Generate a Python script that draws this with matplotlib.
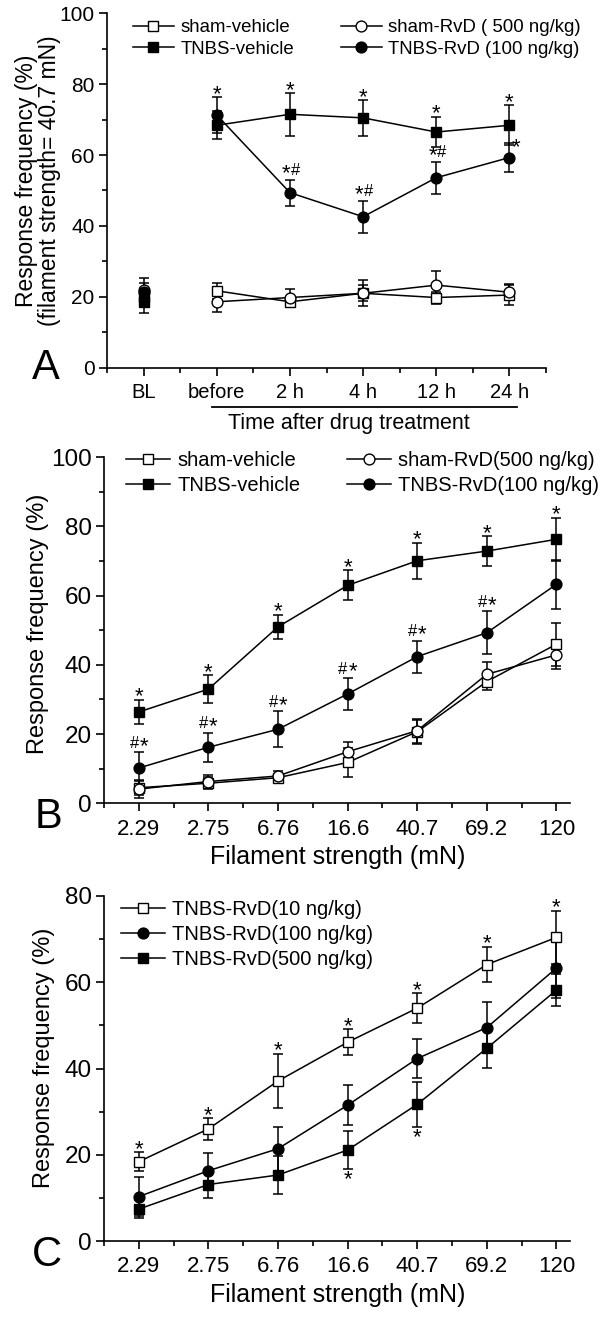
import numpy as np
import matplotlib
matplotlib.use("Agg")
import matplotlib.pyplot as plt
from matplotlib.ticker import MultipleLocator, FixedLocator
from matplotlib.transforms import blended_transform_factory

plt.rcParams['font.family'] = ['Liberation Sans', 'DejaVu Sans']

# ---- panel A: time course at 40.7 mN ----
time_labels = ['BL', 'before', '2 h', '4 h', '12 h', '24 h']
a_sham_veh = [20.0, 21.7, 18.6, 21.0, 19.8, 20.5]
a_sham_veh_err = [2.5, 2.3, 1.2, 3.7, 1.7, 2.8]
a_sham_rvd = [22.0, 18.6, 19.8, 21.0, 23.3, 21.3]
a_sham_rvd_err = [2.0, 2.8, 2.3, 2.3, 4.1, 2.3]
a_tnbs_veh = [18.6, 68.4, 71.5, 70.5, 66.5, 68.4]
a_tnbs_veh_err = [3.3, 4.0, 6.0, 5.0, 4.3, 5.6]
a_tnbs_rvd = [21.4, 71.3, 49.4, 42.6, 53.6, 59.3]
a_tnbs_rvd_err = [3.8, 5.0, 3.7, 4.5, 4.5, 4.2]

# ---- panel B: filament response ----
filament_labels = ['2.29', '2.75', '6.76', '16.6', '40.7', '69.2', '120']
b_sham_veh = [4.5, 5.8, 7.4, 11.8, 20.7, 35.2, 46.0]
b_sham_veh_err = [2.0, 1.8, 1.2, 4.3, 3.5, 2.5, 6.2]
b_sham_rvd = [4.1, 6.3, 7.9, 14.9, 21.0, 37.3, 42.9]
b_sham_rvd_err = [2.5, 2.0, 1.5, 2.7, 3.5, 3.5, 4.2]
b_tnbs_veh = [26.4, 33.0, 51.0, 63.0, 70.1, 72.9, 76.3]
b_tnbs_veh_err = [3.5, 4.1, 3.5, 4.3, 5.2, 4.3, 6.3]
b_tnbs_rvd = [10.2, 16.2, 21.4, 31.6, 42.4, 49.3, 63.3]
b_tnbs_rvd_err = [4.5, 4.2, 5.2, 4.6, 4.6, 6.2, 7.0]

# ---- panel C: dose response ----
c_rvd10 = [18.4, 26.0, 37.1, 46.1, 54.0, 64.1, 70.4]
c_rvd10_err = [2.2, 2.5, 6.3, 3.0, 3.4, 4.1, 6.2]
c_rvd100 = [10.3, 16.3, 21.4, 31.5, 42.3, 49.5, 63.3]
c_rvd100_err = [4.5, 4.2, 5.1, 4.7, 4.5, 6.0, 7.0]
c_rvd500 = [7.4, 13.1, 15.3, 21.1, 31.7, 44.7, 58.2]
c_rvd500_err = [2.0, 3.2, 4.5, 4.5, 5.2, 4.6, 3.6]

W, H = 600, 1318
fig = plt.figure(figsize=(W / 100, H / 100), dpi=100)


def px_axes(left, right, top, bottom):
    return fig.add_axes([left / W, 1 - bottom / H, (right - left) / W, (bottom - top) / H])


LW = 1.1
open_sq = dict(marker='s', mfc='white', mec='k', ms=6.8, mew=1.0)
fill_sq = dict(marker='s', mfc='k', mec='k', ms=6.8, mew=1.0)
open_ci = dict(marker='o', mfc='white', mec='k', ms=7.8, mew=1.0)
fill_ci = dict(marker='o', mfc='k', mec='k', ms=7.8, mew=1.0)


def series(ax, x, y, err, style, label, connect_from=0):
    x = np.asarray(x, float)
    y = np.asarray(y, float)
    ax.errorbar(x, y, yerr=err, fmt='none', ecolor='k', elinewidth=LW,
                capsize=3.6, capthick=LW, zorder=2, clip_on=False)
    h, = ax.plot(x[connect_from:], y[connect_from:], color='k', lw=LW,
                 label=label, zorder=3, clip_on=False, **style)
    if connect_from:
        ax.plot(x[:connect_from], y[:connect_from], ls='none', zorder=3,
                clip_on=False, **style)
    return h


def style_axes(ax, ymax, ymajor, xlim, n, labels, xfs, yfs):
    for s in ('top', 'right'):
        ax.spines[s].set_visible(False)
    for s in ('left', 'bottom'):
        ax.spines[s].set_linewidth(1.2)
    ax.set_ylim(0, ymax)
    ax.set_xlim(*xlim)
    ax.yaxis.set_major_locator(MultipleLocator(ymajor))
    ax.yaxis.set_minor_locator(MultipleLocator(ymajor / 2))
    ax.set_xticks(np.arange(1, n + 1))
    ax.set_xticklabels(labels)
    ax.xaxis.set_minor_locator(FixedLocator(np.arange(0.5, n + 1, 1.0)))
    ax.tick_params(which='major', direction='out', length=6, width=1.2)
    ax.tick_params(which='minor', direction='out', length=3.5, width=1.2)
    ax.tick_params(axis='x', which='major', labelsize=xfs, pad=5)
    ax.tick_params(axis='y', which='major', labelsize=yfs, pad=3)


STAR_FS = 16
HASH_FS = 12


def star(ax, x, y, dx=0, dy=-2, ha='center'):
    ax.annotate('*', (x, y), xytext=(dx, dy), textcoords='offset points',
                ha=ha, va='baseline', fontsize=STAR_FS, zorder=5, annotation_clip=False)


def star_hash(ax, x, y, hash_first):
    # '#' sits just above the cap, star level with its upper half
    if hash_first:
        ax.annotate('#', (x, y), xytext=(0, 3.2), textcoords='offset points',
                    ha='right', va='baseline', fontsize=HASH_FS, annotation_clip=False)
        star(ax, x, y, dx=0.5, dy=0.3, ha='left')
    else:
        star(ax, x, y, dx=0.5, dy=0.3, ha='right')
        ax.annotate('#', (x, y), xytext=(0.5, 3.2), textcoords='offset points',
                    ha='left', va='baseline', fontsize=HASH_FS, annotation_clip=False)


leg_kw = dict(frameon=False, loc='upper left', bbox_transform=fig.transFigure,
              borderpad=0, borderaxespad=0, handlelength=2.2, handletextpad=0.35)

# ================= A =================
axA = px_axes(107, 546, 13.3, 367.7)
xa = np.arange(1, len(time_labels) + 1)
hA = [series(axA, xa, a_sham_veh, a_sham_veh_err, open_sq, 'sham-vehicle', 1),
      series(axA, xa, a_tnbs_veh, a_tnbs_veh_err, fill_sq, 'TNBS-vehicle', 1),
      series(axA, xa, a_sham_rvd, a_sham_rvd_err, open_ci, 'sham-RvD ( 500 ng/kg)', 1),
      series(axA, xa, a_tnbs_rvd, a_tnbs_rvd_err, fill_ci, 'TNBS-RvD (100 ng/kg)', 1)]
style_axes(axA, 100, 20, (0.5, 6.5), len(time_labels), time_labels, 14.5, 15)
axA.legend(handles=hA, ncol=2, fontsize=13.4, bbox_to_anchor=(133 / W, 1 - 19 / H),
           labelspacing=0.26, columnspacing=2.5, **leg_kw)
tops_a = np.max([np.add(a_tnbs_veh, a_tnbs_veh_err), np.add(a_tnbs_rvd, a_tnbs_rvd_err)], axis=0)
for i in range(1, 6):
    star(axA, xa[i], tops_a[i])
for i in (2, 3, 4):
    star_hash(axA, xa[i], a_tnbs_rvd[i] + a_tnbs_rvd_err[i], hash_first=False)
star(axA, xa[5], a_tnbs_rvd[5] + a_tnbs_rvd_err[5], dx=2, dy=-7.5, ha='left')
tr = blended_transform_factory(axA.transData, axA.transAxes)
axA.plot([1.93, 6.1], [-0.111, -0.111], color='k', lw=1.3, transform=tr, clip_on=False)
axA.text(3.8, -0.158, 'Time after drug treatment', transform=tr, ha='center',
         va='center', fontsize=15.5)
fig.text(38 / W, 1 - 181 / H, 'Response frequency (%)\n(filament strength= 40.7 mN)',
         rotation=90, ha='center', va='center', fontsize=16.5, linespacing=1.05)
fig.text(46 / W, 1 - 368 / H, 'A', ha='center', va='center', fontsize=30)

# ================= B =================
axB = px_axes(104, 570.4, 457.3, 803.3)
xb = np.arange(1, len(filament_labels) + 1)
hB = [series(axB, xb, b_sham_veh, b_sham_veh_err, open_sq, 'sham-vehicle'),
      series(axB, xb, b_tnbs_veh, b_tnbs_veh_err, fill_sq, 'TNBS-vehicle'),
      series(axB, xb, b_sham_rvd, b_sham_rvd_err, open_ci, 'sham-RvD(500 ng/kg)'),
      series(axB, xb, b_tnbs_rvd, b_tnbs_rvd_err, fill_ci, 'TNBS-RvD(100 ng/kg)')]
style_axes(axB, 100, 20, (0.5, 7.2), len(filament_labels), filament_labels, 16, 17.5)
axB.legend(handles=hB, ncol=2, fontsize=14.5, bbox_to_anchor=(126 / W, 1 - 451 / H),
           labelspacing=0.31, columnspacing=2.3, **leg_kw)
tops_b = np.add(b_tnbs_veh, b_tnbs_veh_err)
for i in range(7):
    star(axB, xb[i], tops_b[i])
for i in range(6):
    star_hash(axB, xb[i], b_tnbs_rvd[i] + b_tnbs_rvd_err[i], hash_first=True)
axB.set_xlabel('Filament strength (mN)', fontsize=18, labelpad=4)
fig.text(38 / W, 1 - 624 / H, 'Response frequency (%)', rotation=90,
         ha='center', va='center', fontsize=17)
fig.text(48 / W, 1 - 817 / H, 'B', ha='center', va='center', fontsize=30)

# ================= C =================
axC = px_axes(104, 570.4, 896, 1241)
hC = [series(axC, xb, c_rvd10, c_rvd10_err, open_sq, 'TNBS-RvD(10 ng/kg)'),
      series(axC, xb, c_rvd100, c_rvd100_err, fill_ci, 'TNBS-RvD(100 ng/kg)'),
      series(axC, xb, c_rvd500, c_rvd500_err, fill_sq, 'TNBS-RvD(500 ng/kg)')]
style_axes(axC, 80, 20, (0.5, 7.2), len(filament_labels), filament_labels, 16, 17.5)
axC.legend(handles=hC, ncol=1, fontsize=14.5, bbox_to_anchor=(121 / W, 1 - 900 / H),
           labelspacing=0.29, **leg_kw)
tops_c = np.max([np.add(c_rvd10, c_rvd10_err), np.add(c_rvd100, c_rvd100_err)], axis=0)
for i in range(7):
    star(axC, xb[i], tops_c[i])
for i in (3, 4):
    star(axC, xb[i], c_rvd500[i] - c_rvd500_err[i], dy=-11.5)
axC.set_xlabel('Filament strength (mN)', fontsize=18, labelpad=4)
fig.text(44 / W, 1 - 1058 / H, 'Response frequency (%)', rotation=90,
         ha='center', va='center', fontsize=17)
fig.text(47 / W, 1 - 1255 / H, 'C', ha='center', va='center', fontsize=30)

fig.savefig('out.png', dpi=100)
